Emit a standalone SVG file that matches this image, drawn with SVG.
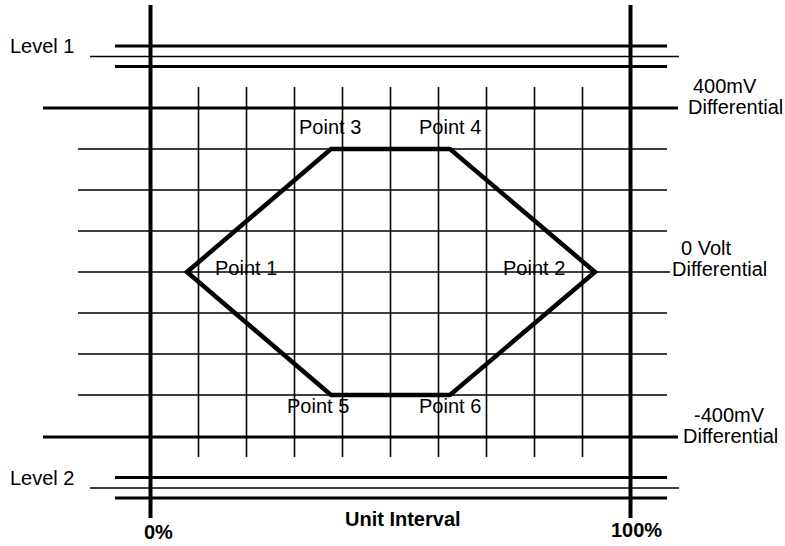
<svg xmlns="http://www.w3.org/2000/svg" width="785" height="546" viewBox="0 0 785 546">
<style>
.thin{stroke:#000;stroke-width:1.6;fill:none}
.mid{stroke:#000;stroke-width:3.2;fill:none}
.thick{stroke:#000;stroke-width:4;fill:none}
.hex{stroke:#000;stroke-width:4.5;fill:none;stroke-linejoin:miter}
text{font-family:"Liberation Sans",Arial,sans-serif;font-size:20px;fill:#000}
.b{font-weight:bold}
</style>
<rect width="785" height="546" fill="#fff"/>
<g id="grid">
<path class="thin" d="M198.5 87V457M246.5 87V457M294.5 87V457M342.5 87V457M390.5 87V457M438.5 87V457M486.5 87V457M534.5 87V457M582.5 87V457"/>
<path class="thin" d="M78 149H667M78 190H667M78 231H667M78 272H670M78 313H667M78 354H667M78 395H667"/>
</g>
<g id="levels">
<path class="mid" d="M43 108H678M43 437H678"/>
<path class="mid" d="M115 46H667M115 66.5H667M115 477.5H667M115 498H667"/>
<path class="thin" d="M90 56.5H679M90 488H679"/>
</g>
<g id="axes">
<path class="thick" d="M150.5 5V518M630.5 5V518"/>
</g>
<g id="mask">
<polygon class="hex" points="187,272 331,149 450,149 595,272 450,395 331,395"/>
</g>
<g id="labels">
<text x="10" y="53">Level 1</text>
<text x="10" y="485">Level 2</text>
<text x="693" y="93">400mV</text>
<text x="688" y="114">Differential</text>
<text x="681" y="255">0 Volt</text>
<text x="672" y="276">Differential</text>
<text x="694" y="422">-400mV</text>
<text x="683" y="443">Differential</text>
<text x="215" y="275">Point 1</text>
<text x="503" y="275">Point 2</text>
<text x="299" y="134">Point 3</text>
<text x="419" y="134">Point 4</text>
<text x="287" y="413">Point 5</text>
<text x="419" y="413">Point 6</text>
<text class="b" x="144" y="539">0%</text>
<text class="b" x="611" y="537">100%</text>
<text class="b" x="345" y="526">Unit Interval</text>
</g>
</svg>
